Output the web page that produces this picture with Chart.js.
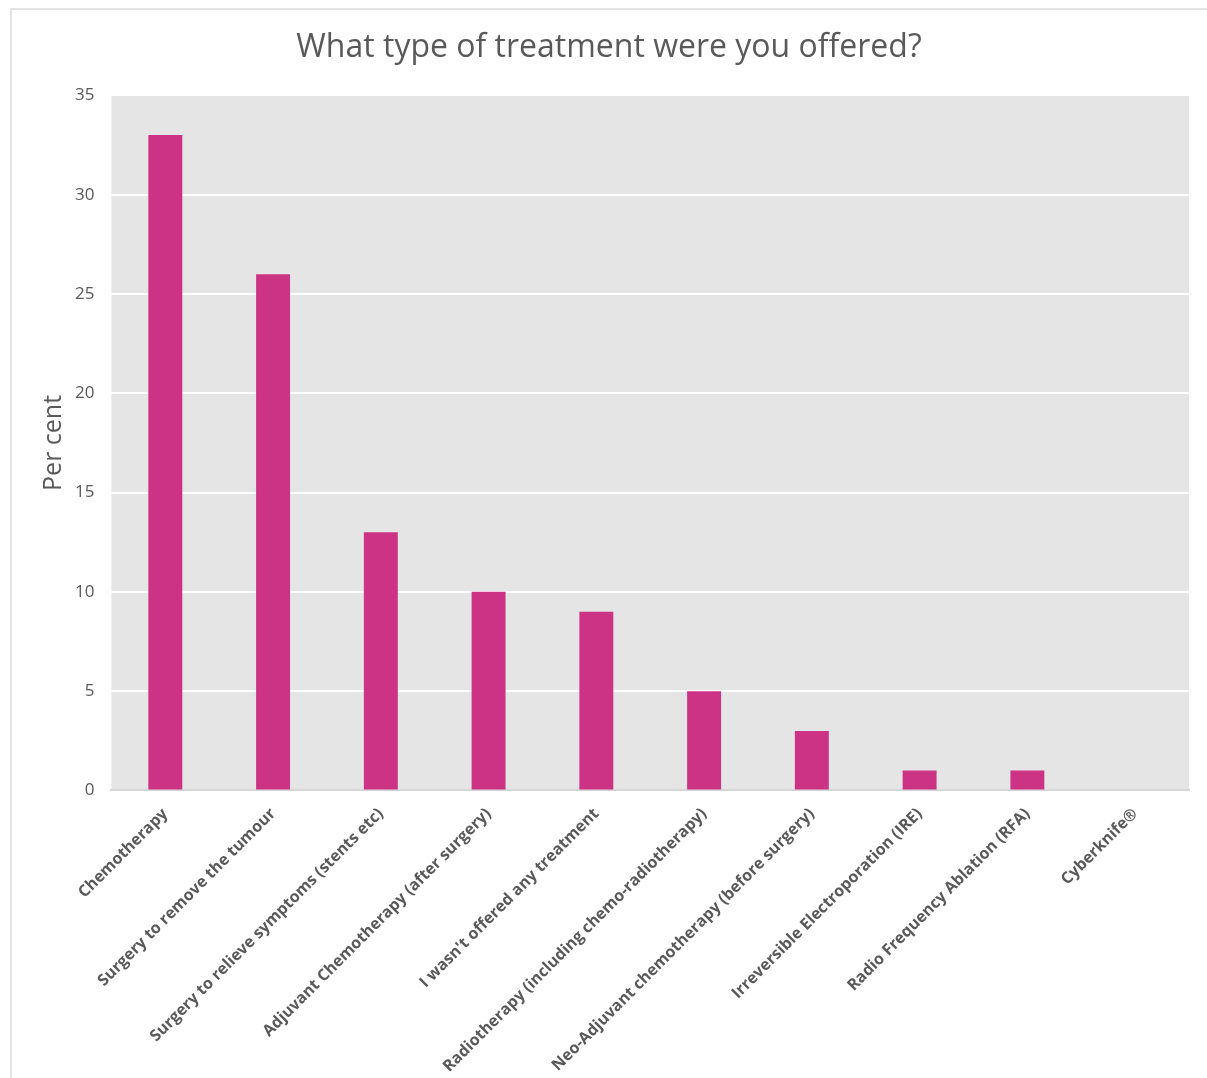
<!DOCTYPE html>
<html>
<head>
<meta charset="utf-8">
<script src="https://cdn.jsdelivr.net/npm/chart.js"></script>
<style>
    html, body { margin: 0; padding: 0; background: #fff; overflow: hidden; }
    #frame {
        position: absolute; left: 10px; top: 8px;
        width: 1300px; height: 1200px;
        border: 2px solid #e3e3e3;
    }
    #myChart { position: absolute; left: 0; top: 0; }
</style>
</head>
<body>
<div id="frame"></div>
<canvas id="myChart" width="1207" height="1078"></canvas>
<script>
    const treatments = [
        'Chemotherapy',
        'Surgery to remove the tumour',
        'Surgery to relieve symptoms (stents etc)',
        'Adjuvant Chemotherapy (after surgery)',
        "I wasn't offered any treatment",
        'Radiotherapy (including chemo-radiotherapy)',
        'Neo-Adjuvant chemotherapy (before surgery)',
        'Irreversible Electroporation (IRE)',
        'Radio Frequency Ablation (RFA)',
        'Cyberknife®'
    ]
    const perCent = [33, 26, 13, 10, 9, 5, 3, 1, 1, 0]
    const yTicks = [0, 5, 10, 15, 20, 25, 30, 35]

    const textGrey = '#595959'

    // grey panel behind the bars
    const plotBackground = {
        id: 'plotBackground',
        beforeDraw(chart) {
            const {ctx, chartArea} = chart
            ctx.save()
            ctx.fillStyle = '#e5e5e5'
            ctx.fillRect(chartArea.left, chartArea.top, chartArea.width, chartArea.height)
            ctx.restore()
        }
    }

    const config = {
        type: 'bar',
        data: {
            labels: treatments,
            datasets: [{
                data: perCent,
                backgroundColor: '#cc3385',
                borderWidth: 0,
                categoryPercentage: 1,
                barPercentage: 0.315
            }]
        },
        options: {
            responsive: false,
            animation: false,
            layout: {
                padding: {left: 29, right: 18, top: 29, bottom: -12}
            },
            plugins: {
                legend: {display: false},
                tooltip: {enabled: false},
                title: {
                    display: true,
                    text: 'What type of treatment were you offered?',
                    color: textGrey,
                    font: {family: "'Open Sans'", size: 32, weight: 'normal'},
                    padding: {top: 0, bottom: 28}
                }
            },
            scales: {
                x: {
                    grid: {display: false, drawTicks: false},
                    border: {display: true, color: '#d6d6d6', width: 2},
                    ticks: {
                        color: textGrey,
                        font: {family: "'Open Sans'", size: 16, weight: 'bold'},
                        minRotation: 45,
                        maxRotation: 45,
                        padding: 14,
                        autoSkip: false
                    },
                    // the slanted first label may hang left of the plot, no need to reserve room
                    afterFit: axis => { axis.paddingLeft = 0 }
                },
                y: {
                    min: 0,
                    max: 35,
                    afterBuildTicks: axis => { axis.ticks = yTicks.map(v => ({value: v})) },
                    // invisible tick marks just push the numbers away from the plot
                    grid: {color: '#ffffff', lineWidth: 2, drawTicks: true, tickLength: 11, tickColor: 'rgba(0,0,0,0)'},
                    border: {display: false},
                    ticks: {
                        color: textGrey,
                        font: {family: "'Open Sans'", size: 17},
                        padding: 6
                    },
                    title: {
                        display: true,
                        text: 'Per cent',
                        color: textGrey,
                        font: {family: "'Open Sans'", size: 25},
                        padding: {top: 10, bottom: 0}
                    }
                }
            }
        },
        plugins: [plotBackground]
    }

    const myChart = new Chart(document.getElementById('myChart'), config)
</script>
</body>
</html>
